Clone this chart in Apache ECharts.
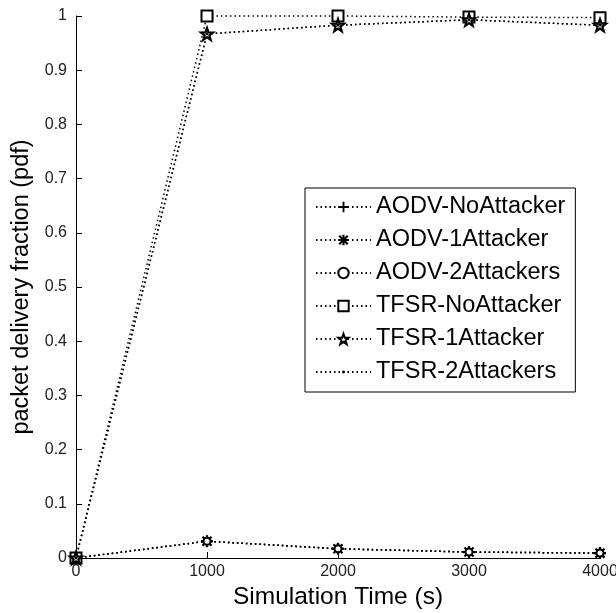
<!DOCTYPE html>
<html>
<head>
<meta charset="utf-8">
<script src="https://cdn.jsdelivr.net/npm/echarts@6/dist/echarts.min.js"></script>
<style>
  html, body { margin: 0; padding: 0; background: #fff; }
  #chart { width: 616px; height: 613px; }
</style>
</head>
<body>
<div id="chart"></div>
<script>
// Simulation times (s)
const times = [0, 1000, 2000, 3000, 4000];
const xTicks = [0, 1000, 2000, 3000, 4000];
const yTicks = [0, 0.1, 0.2, 0.3, 0.4, 0.5, 0.6, 0.7, 0.8, 0.9, 1];

// Packet delivery fraction per protocol / attacker count
const aodvNoAttacker = [0, 0.031, 0.017, 0.011, 0.009];
const aodv1Attacker  = [0, 0.031, 0.017, 0.011, 0.009];
const aodv2Attackers = [0, 0.031, 0.017, 0.011, 0.009];
const tfsrNoAttacker = [0, 1.0, 1.0, 0.998, 0.997];
const tfsr1Attacker  = [0, 0.967, 0.983, 0.993, 0.983];
const tfsr2Attackers = [0, 0.967, 0.983, 0.993, 0.983];

const seriesNames = [
  'AODV-NoAttacker', 'AODV-1Attacker', 'AODV-2Attackers',
  'TFSR-NoAttacker', 'TFSR-1Attacker', 'TFSR-2Attackers'
];

const FONT = "'Liberation Sans', Arial, sans-serif";

// marker shapes
const plusPath = 'path://M4.1,0H5.9V4.1H10V5.9H5.9V10H4.1V5.9H0V4.1H4.1Z';
const asteriskPath = 'path://M4,0H6V10H4Z M0,4H10V6H0Z ' +
  'M1.6,0.2L9.8,8.4L8.4,9.8L0.2,1.6Z M8.4,0.2L9.8,1.6L1.6,9.8L0.2,8.4Z';
const starPath = 'path://M5,0L6.18,3.38L9.76,3.45L6.9,5.62L7.94,9.05L5,7L2.06,9.05L3.1,5.62L0.24,3.45L3.82,3.38Z';
// small point marker, padded inside a 10x10 box so it stays tiny when scaled
const pointPath = 'path://M0,0M10,10M3.6,5A1.4,1.4,0,1,1,6.4,5A1.4,1.4,0,1,1,3.6,5Z';

function pairs(vals) {
  return times.map((t, i) => [t, vals[i]]);
}

const dotted = { color: '#000', width: 1.5, type: [1.5, 3] };

function makeSeries(name, vals, symbol, size, itemStyle) {
  return {
    name: name,
    type: 'line',
    data: pairs(vals),
    symbol: symbol,
    symbolSize: size,
    showAllSymbol: true,
    clip: false,
    lineStyle: dotted,
    itemStyle: itemStyle,
    emphasis: { disabled: true },
    animation: false
  };
}

const chart = echarts.init(document.getElementById('chart'));
chart.setOption({
  backgroundColor: '#fff',
  animation: false,
  grid: { left: 76, right: 16, top: 16, bottom: 55, containLabel: false, outerBoundsMode: 'none' },
  xAxis: {
    type: 'value',
    min: xTicks[0],
    max: xTicks[xTicks.length - 1],
    interval: 1000,
    name: 'Simulation Time (s)',
    nameLocation: 'middle',
    nameGap: 26,
    nameTextStyle: { fontFamily: FONT, fontSize: 24.5, color: '#000' },
    axisLine: { lineStyle: { color: '#000', width: 1 } },
    axisTick: { inside: true, length: 6, lineStyle: { color: '#000' } },
    axisLabel: {
      fontFamily: FONT, fontSize: 16, color: '#222', margin: 6,
      formatter: v => String(v)
    },
    splitLine: { show: false }
  },
  yAxis: {
    type: 'value',
    min: yTicks[0],
    max: yTicks[yTicks.length - 1],
    interval: 0.1,
    name: 'packet delivery fraction (pdf)',
    nameLocation: 'middle',
    nameGap: 42,
    nameTextStyle: { fontFamily: FONT, fontSize: 23.5, color: '#000' },
    axisLine: { show: true, lineStyle: { color: '#000', width: 1 } },
    axisTick: { show: true, inside: true, length: 6, lineStyle: { color: '#000' } },
    axisLabel: {
      fontFamily: FONT, fontSize: 16, color: '#222', margin: 9,
      formatter: v => String(Math.round(v * 10) / 10)
    },
    splitLine: { show: false }
  },
  legend: {
    orient: 'vertical',
    left: 305,
    top: 188,
    padding: [7, 10, 8, 10],
    backgroundColor: '#fff',
    borderColor: '#000',
    borderWidth: 1,
    itemWidth: 55,
    itemHeight: 13,
    itemGap: 9,
    data: seriesNames,
    textStyle: { fontFamily: FONT, fontSize: 23.5, lineHeight: 24, color: '#000' },
    selectedMode: false
  },
  series: [
    makeSeries(seriesNames[0], aodvNoAttacker, plusPath, 12, { color: '#000' }),
    makeSeries(seriesNames[1], aodv1Attacker, asteriskPath, 11, { color: '#000' }),
    makeSeries(seriesNames[2], aodv2Attackers, 'emptyCircle', 7, { color: '#000', borderWidth: 3 }),
    makeSeries(seriesNames[3], tfsrNoAttacker, 'emptyRect', 11, { color: '#000', borderWidth: 2 }),
    makeSeries(seriesNames[4], tfsr1Attacker, starPath, 12,
      { color: '#fff', borderColor: '#000', borderWidth: 2.2 }),
    makeSeries(seriesNames[5], tfsr2Attackers, pointPath, 10, { color: '#000' })
  ]
});
</script>
</body>
</html>
